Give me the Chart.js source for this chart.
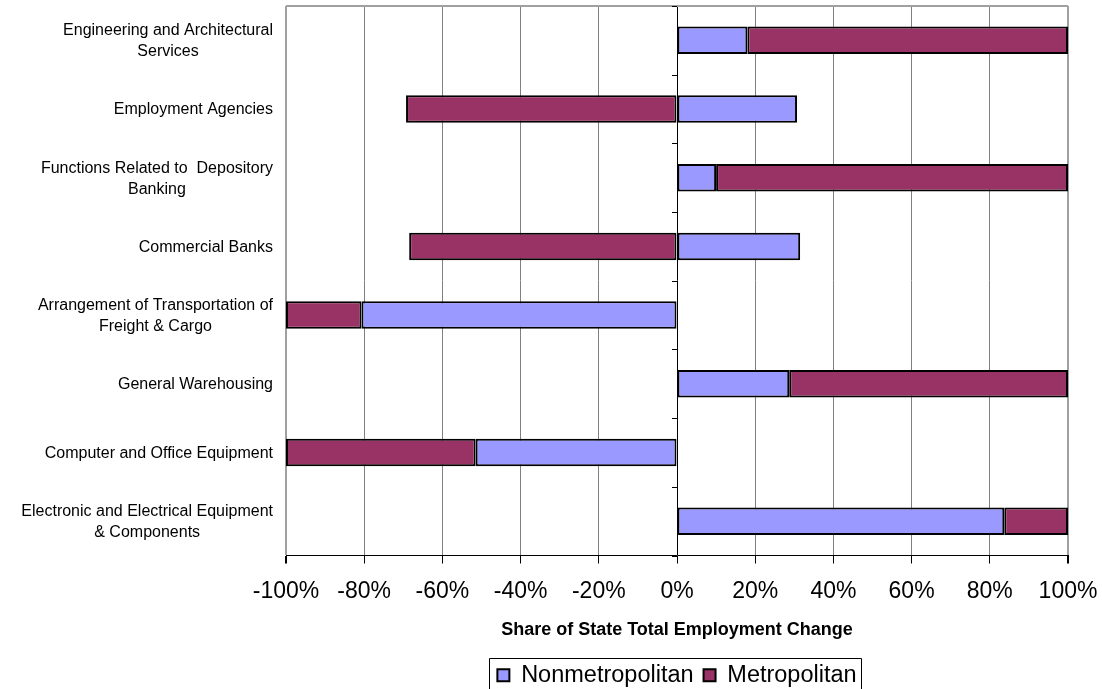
<!DOCTYPE html>
<html>
<head>
<meta charset="utf-8">
<script src="https://cdn.jsdelivr.net/npm/chart.js@4"></script>
<style>
  body { margin: 0; background: #fff; }
  #wrap { width: 1102px; height: 689px; }
</style>
</head>
<body>
<div id="wrap"><canvas id="bar-chart" width="1102" height="689"></canvas></div>
<script>
// industries, top to bottom
var industries = [
  ["Engineering and Architectural", "Services"],
  ["Employment Agencies"],
  ["Functions Related to  Depository", "Banking"],
  ["Commercial Banks"],
  ["Arrangement of Transportation of", "Freight & Cargo"],
  ["General Warehousing"],
  ["Computer and Office Equipment"],
  ["Electronic and Electrical Equipment", "& Components"]
];
// share of state total employment change, percent
var nonmetro = [18, 30.7, 10, 31.5, -80.7, 28.7, -51.5, 83.7];
var metro = [82, -69.3, 90, -68.5, -19.3, 71.3, -48.5, 16.3];
var xTicks = [-100, -80, -60, -40, -20, 0, 20, 40, 60, 80, 100];

var FONT = "'Liberation Sans', Arial, sans-serif";

// draws the plot frame, the ticks on the zero line, the category labels and the legend frame
var extras = {
  id: "extras",
  afterDraw: function(chart) {
    var ctx = chart.ctx;
    var a = chart.chartArea;
    var xs = chart.scales.x, ys = chart.scales.y;
    ctx.save();
    // top border
    ctx.strokeStyle = "#a0a0a0";
    ctx.lineWidth = 2;
    ctx.beginPath();
    ctx.moveTo(a.left, a.top);
    ctx.lineTo(a.right, a.top);
    ctx.stroke();
    // small ticks on the zero line
    var x0 = xs.getPixelForValue(0);
    ctx.strokeStyle = "#000";
    ctx.lineWidth = 1;
    for (var i = 0; i <= industries.length; i++) {
      var y = Math.round(ys.getPixelForValue(i - 0.5)) + 0.5;
      ctx.beginPath();
      ctx.moveTo(x0 - 5, y);
      ctx.lineTo(x0, y);
      ctx.stroke();
    }
    // category labels, lines centred on each other
    ctx.font = "16px " + FONT;
    ctx.fillStyle = "#000";
    ctx.textAlign = "center";
    ctx.textBaseline = "middle";
    industries.forEach(function(lines, i) {
      var w = 0;
      lines.forEach(function(l) { w = Math.max(w, ctx.measureText(l).width); });
      var cx = a.left - 13 - w / 2;
      var cy = ys.getPixelForValue(i) + 1;
      var lh = 21;
      lines.forEach(function(l, j) {
        ctx.fillText(l, cx, cy + (j - (lines.length - 1) / 2) * lh);
      });
    });
    // legend frame
    var hb = chart.legend.legendHitBoxes;
    if (hb && hb.length) {
      var first = hb[0], last = hb[hb.length - 1];
      ctx.strokeStyle = "#000";
      ctx.lineWidth = 1;
      var l = Math.round(first.left - 8) + 0.5;
      var r = Math.round(last.left + last.width + 4) + 0.5;
      var t = Math.round(first.top - 6) + 0.5;
      ctx.beginPath();
      ctx.moveTo(l, chart.height + 2);
      ctx.lineTo(l, t);
      ctx.lineTo(r, t);
      ctx.lineTo(r, chart.height + 2);
      ctx.stroke();
    }
    ctx.restore();
  }
};

new Chart(document.getElementById("bar-chart"), {
  type: "bar",
  data: {
    labels: industries,
    datasets: [{
      label: "Nonmetropolitan",
      data: nonmetro,
      backgroundColor: "#9999FF",
      borderColor: "#000000",
      borderWidth: 2,
      borderSkipped: false
    }, {
      label: "Metropolitan",
      data: metro,
      backgroundColor: "#993366",
      borderColor: "#000000",
      borderWidth: 2,
      borderSkipped: false
    }]
  },
  options: {
    indexAxis: "y",
    responsive: false,
    animation: false,
    layout: { padding: { top: 6, right: 34, left: 0, bottom: -8 } },
    scales: {
      x: {
        stacked: true,
        min: -100,
        max: 100,
        afterBuildTicks: function(scale) {
          scale.ticks = xTicks.map(function(v) { return { value: v }; });
        },
        afterFit: function(scale) {
          scale.height = 98;
          scale.paddingLeft = 0;
          scale.paddingRight = 0;
        },
        ticks: {
          callback: function(v) { return v + "%"; },
          font: { family: FONT, size: 23 },
          color: "#000",
          padding: 14,
          maxRotation: 0
        },
        grid: {
          color: function(c) {
            if (c.tick && c.tick.value === 0) return "#000";
            if (c.tick && Math.abs(c.tick.value) === 100) return "#a0a0a0";
            return "#808080";
          },
          lineWidth: function(c) {
            return c.tick && Math.abs(c.tick.value) === 100 ? 2 : 1;
          },
          tickColor: "#000",
          tickLength: 8
        },
        border: { display: true, color: "#000", width: 1 },
        title: {
          display: true,
          text: "Share of State Total Employment Change",
          font: { family: FONT, size: 18, weight: "bold" },
          color: "#000",
          padding: { top: 4, bottom: 13 }
        }
      },
      y: {
        stacked: true,
        afterFit: function(scale) { scale.width = 286; },
        ticks: { display: false },
        grid: { display: false },
        border: { display: false }
      }
    },
    datasets: {
      bar: { categoryPercentage: 0.4, barPercentage: 1 }
    },
    plugins: {
      legend: {
        position: "bottom",
        fullSize: false,
        labels: {
          font: { family: FONT, size: 23.5 },
          color: "#000",
          boxWidth: 12,
          boxHeight: 12,
          padding: 10
        }
      },
      tooltip: { enabled: false }
    }
  },
  plugins: [extras]
});
</script>
</body>
</html>
